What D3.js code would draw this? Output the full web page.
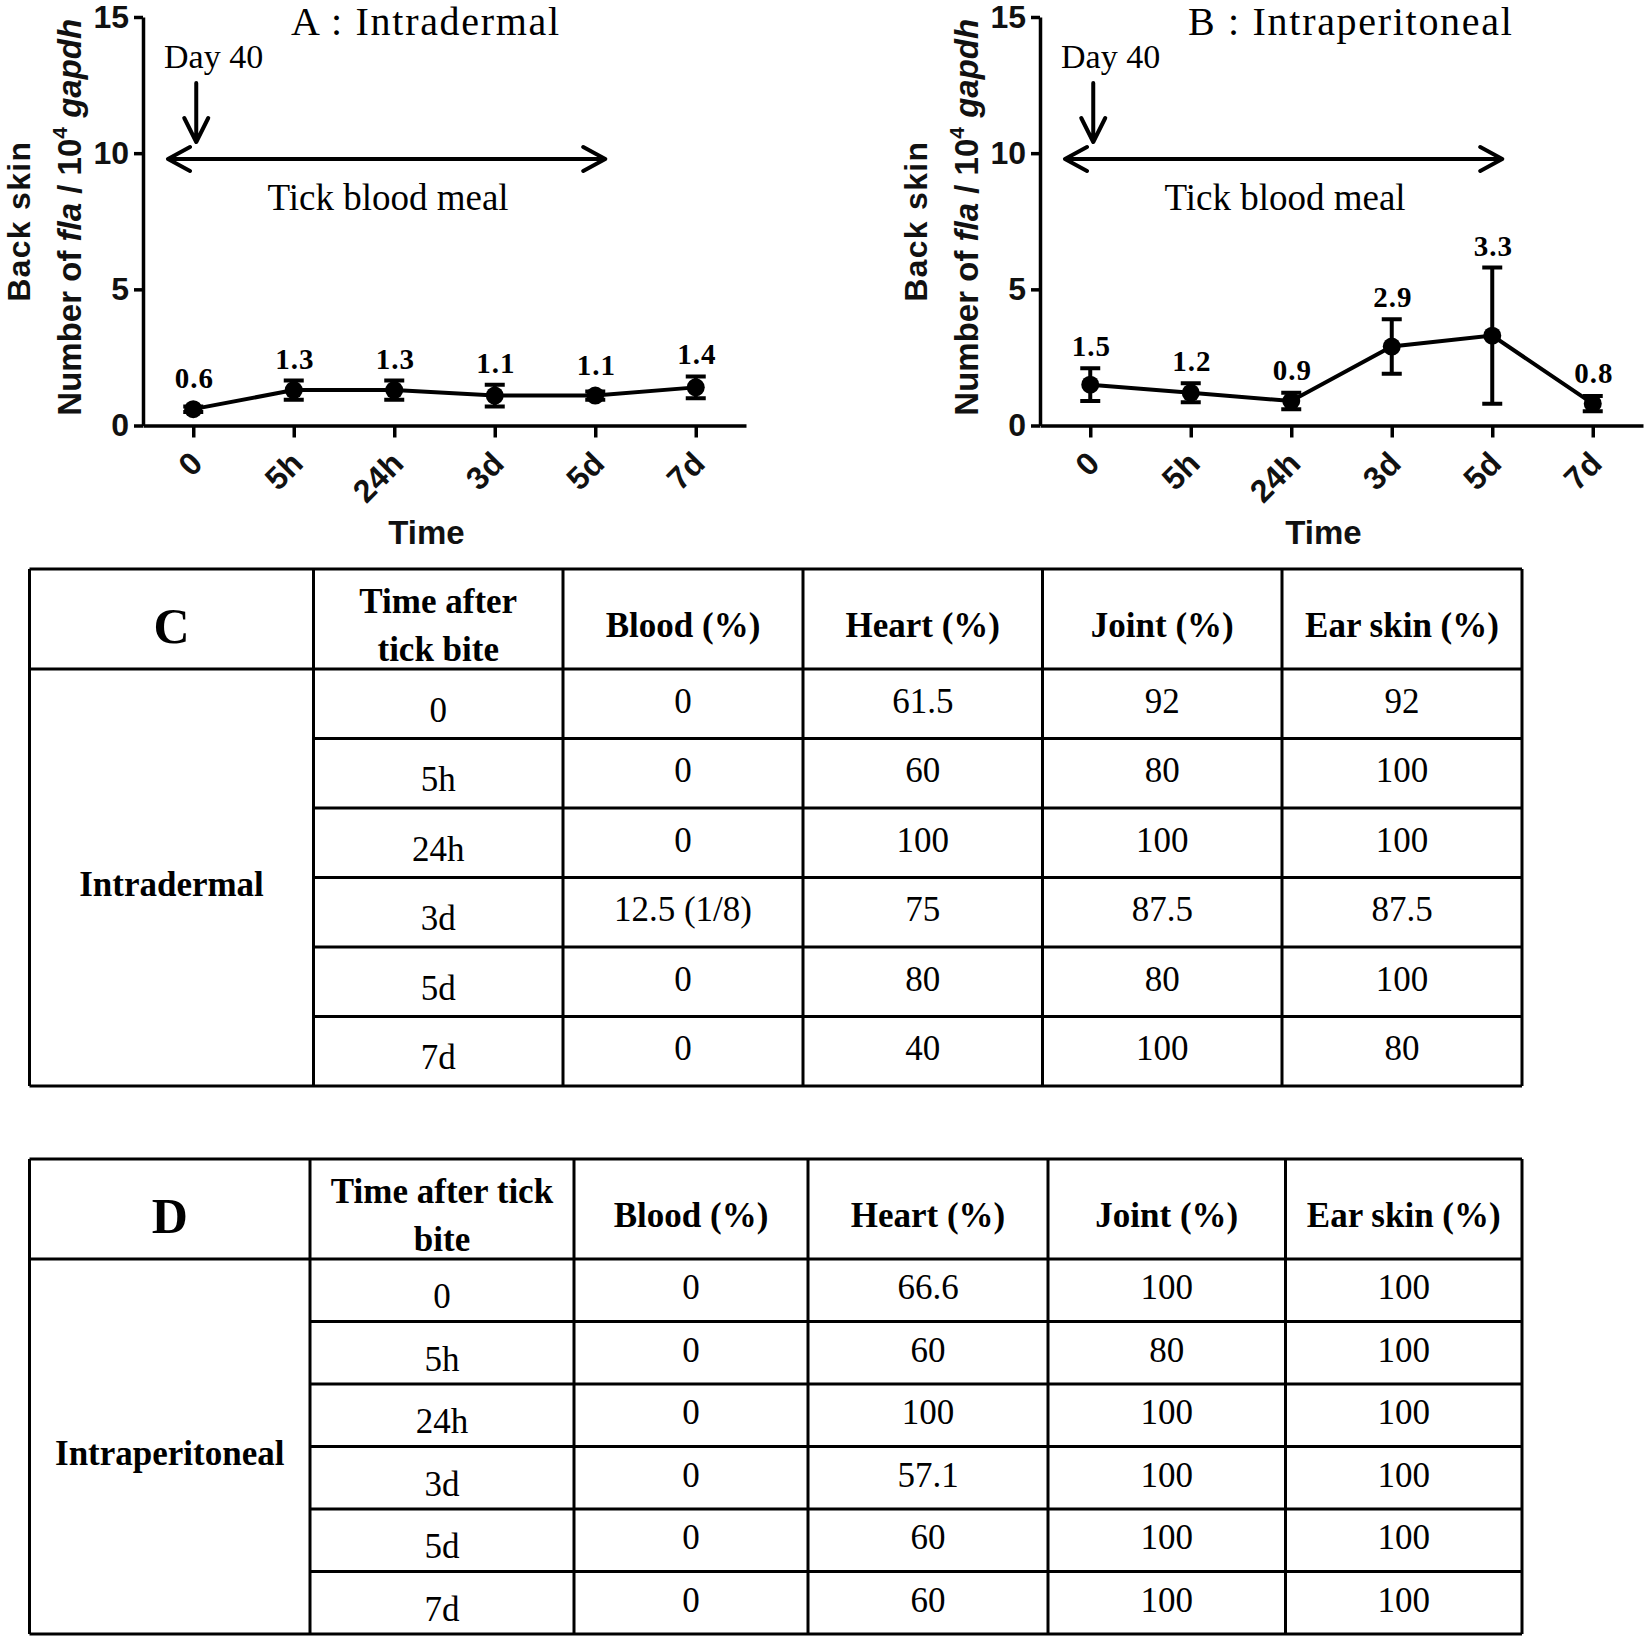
<!DOCTYPE html>
<html>
<head>
<meta charset="utf-8">
<script src="https://cdn.jsdelivr.net/npm/d3@7"></script>
<style>
  body { margin: 0; background: #fff; }
  svg { display: block; }
</style>
</head>
<body>
<div id="figure"></div>
<script>
        // Data
        const timePoints = ["0", "5h", "24h", "3d", "5d", "7d"];
        const yTicks = [0, 5, 10, 15];

        const intradermalMean = [0.6, 1.3, 1.3, 1.1, 1.1, 1.4];
        const intradermalErr = [0.1, 0.35, 0.35, 0.4, 0.15, 0.4];
        const intraperitonealMean = [1.5, 1.2, 0.9, 2.9, 3.3, 0.8];
        const intraperitonealErr = [0.6, 0.35, 0.3, 1.0, 2.5, 0.28];

        const organHeaders = ["Blood (%)", "Heart (%)", "Joint (%)", "Ear skin (%)"];
        const timeHeaderC = ["Time after", "tick bite"];
        const timeHeaderD = ["Time after tick", "bite"];

        const bloodC = ["0", "0", "0", "12.5 (1/8)", "0", "0"];
        const heartC = ["61.5", "60", "100", "75", "80", "40"];
        const jointC = ["92", "80", "100", "87.5", "80", "100"];
        const earC = ["92", "100", "100", "87.5", "100", "80"];

        const bloodD = ["0", "0", "0", "0", "0", "0"];
        const heartD = ["66.6", "60", "100", "57.1", "60", "60"];
        const jointD = ["100", "80", "100", "100", "100", "100"];
        const earD = ["100", "100", "100", "100", "100", "100"];

        const width = 1650;
        const height = 1638;
        const sans = "'Liberation Sans', Arial, sans-serif";
        const serif = "'Liberation Serif', 'Times New Roman', serif";

        const svg = d3.select("#figure")
            .append("svg")
            .attr("width", width)
            .attr("height", height);

        svg.append("rect")
            .attr("width", width)
            .attr("height", height)
            .attr("fill", "#fff");

        // Line chart panel (A / B)
        function drawPanel(axisX, title, means, errs) {
            const x = d3.scalePoint()
                .domain(timePoints)
                .range([axisX, axisX + 603])
                .padding(0.5);
            const y = d3.scaleLinear()
                .domain([0, 15])
                .range([425.5, 17]);
            const g = svg.append("g");

            // Axes
            g.append("g")
                .attr("transform", `translate(${axisX},0)`)
                .call(d3.axisLeft(y).tickValues(yTicks).tickSize(9).tickSizeOuter(0).tickPadding(5))
                .call(a => a.selectAll("text")
                    .attr("font-family", sans)
                    .attr("font-weight", "bold")
                    .attr("font-size", 32)
                    .attr("fill", "#111"));

            g.append("g")
                .attr("transform", `translate(0,${y(0)})`)
                .call(d3.axisBottom(x).tickSize(12).tickSizeOuter(0).tickFormat(""));

            g.selectAll(".domain, .tick line")
                .attr("stroke", "#000")
                .attr("stroke-width", 3.5);

            // Rotated time labels
            timePoints.forEach(t => {
                g.append("text")
                    .attr("transform", `translate(${x(t) + 11},${y(0) + 40}) rotate(-45)`)
                    .attr("text-anchor", "end")
                    .attr("font-family", sans)
                    .attr("font-weight", "bold")
                    .attr("font-size", 32)
                    .attr("fill", "#111")
                    .text(t);
            });

            const xMid = (x(timePoints[0]) + x(timePoints[timePoints.length - 1])) / 2;
            g.append("text")
                .attr("x", xMid - 18)
                .attr("y", 544)
                .attr("text-anchor", "middle")
                .attr("font-family", sans)
                .attr("font-weight", "bold")
                .attr("font-size", 33)
                .attr("fill", "#111")
                .text("Time");

            // Y axis titles
            const yMid = (y(0) + y(15)) / 2;
            g.append("text")
                .attr("transform", `translate(${axisX - 113.5},${yMid}) rotate(-90)`)
                .attr("text-anchor", "middle")
                .attr("font-family", sans)
                .attr("font-weight", "bold")
                .attr("font-size", 32)
                .attr("letter-spacing", 1.3)
                .attr("fill", "#111")
                .text("Back skin");

            const yLabel = g.append("text")
                .attr("transform", `translate(${axisX - 62},${yMid - 4}) rotate(-90)`)
                .attr("text-anchor", "middle")
                .attr("font-family", sans)
                .attr("font-weight", "bold")
                .attr("font-size", 33)
                .attr("fill", "#111");
            yLabel.append("tspan").text("Number of ");
            yLabel.append("tspan").attr("font-style", "italic").text("fla");
            yLabel.append("tspan").text(" / 10");
            yLabel.append("tspan").attr("font-size", 21).attr("dy", -14).text("4");
            yLabel.append("tspan").attr("dy", 14).text("  ");
            yLabel.append("tspan").attr("font-style", "italic").text("gapdh");

            // Annotations
            g.append("text")
                .attr("x", axisX + 148)
                .attr("y", 35)
                .attr("font-family", serif)
                .attr("font-size", 40)
                .attr("letter-spacing", 1.7)
                .text(title);

            g.append("text")
                .attr("x", axisX + 21)
                .attr("y", 68)
                .attr("font-family", serif)
                .attr("font-size", 34)
                .text("Day 40");

            const ax = x(timePoints[0]) + 3;
            g.append("path")
                .attr("d", `M${ax},83 L${ax},142 M${ax - 12},118 L${ax},142 L${ax + 12},118`)
                .attr("fill", "none")
                .attr("stroke", "#000")
                .attr("stroke-width", 4)
                .attr("stroke-linejoin", "round")
                .attr("stroke-linecap", "round");

            const hy = 159;
            const hx1 = axisX + 25;
            const hx2 = x("5d") + 10;
            g.append("path")
                .attr("d", `M${hx1},${hy} L${hx2},${hy}
                            M${hx1 + 22},${hy - 12} L${hx1},${hy} L${hx1 + 22},${hy + 12}
                            M${hx2 - 22},${hy - 12} L${hx2},${hy} L${hx2 - 22},${hy + 12}`)
                .attr("fill", "none")
                .attr("stroke", "#000")
                .attr("stroke-width", 4)
                .attr("stroke-linejoin", "round")
                .attr("stroke-linecap", "round");

            g.append("text")
                .attr("x", axisX + 245)
                .attr("y", 210)
                .attr("text-anchor", "middle")
                .attr("font-family", serif)
                .attr("font-size", 37)
                .text("Tick blood meal");

            // Series
            const points = timePoints.map((t, i) => ({ t: t, m: means[i], e: errs[i] }));

            g.append("path")
                .datum(points)
                .attr("d", d3.line().x(d => x(d.t)).y(d => y(d.m)))
                .attr("fill", "none")
                .attr("stroke", "#000")
                .attr("stroke-width", 4);

            points.forEach(d => {
                const cx = x(d.t);
                g.append("path")
                    .attr("d", `M${cx},${y(d.m - d.e)} L${cx},${y(d.m + d.e)}
                                M${cx - 10},${y(d.m - d.e)} L${cx + 10},${y(d.m - d.e)}
                                M${cx - 10},${y(d.m + d.e)} L${cx + 10},${y(d.m + d.e)}`)
                    .attr("fill", "none")
                    .attr("stroke", "#000")
                    .attr("stroke-width", 4);

                g.append("circle")
                    .attr("cx", cx)
                    .attr("cy", y(d.m))
                    .attr("r", 9)
                    .attr("fill", "#000");

                g.append("text")
                    .attr("x", cx + 1)
                    .attr("y", Math.min(y(d.m + d.e), y(d.m) - 9) - 12)
                    .attr("text-anchor", "middle")
                    .attr("font-family", serif)
                    .attr("font-weight", "bold")
                    .attr("font-size", 29)
                    .attr("letter-spacing", 1)
                    .text(d.m.toFixed(1));
            });
        }

        drawPanel(143, "A : Intradermal", intradermalMean, intradermalErr);
        drawPanel(1040, "B : Intraperitoneal", intraperitonealMean, intraperitonealErr);

        // Tables (C / D)
        function drawTable(top, headerBottom, bottom, edges, letter, group, timeHeader, columns) {
            const g = svg.append("g");
            const rows = d3.scaleBand()
                .domain(timePoints)
                .range([headerBottom, bottom]);
            const left = edges[0];
            const right = edges[edges.length - 1];
            const line = (x1, y1, x2, y2) => g.append("line")
                .attr("x1", x1).attr("y1", y1).attr("x2", x2).attr("y2", y2)
                .attr("stroke", "#000")
                .attr("stroke-width", 3);

            // Grid
            line(left, top, right, top);
            line(left, headerBottom, right, headerBottom);
            line(left, bottom, right, bottom);
            timePoints.slice(1).forEach(t => line(edges[1], rows(t), right, rows(t)));
            edges.forEach(ex => line(ex, top, ex, bottom));

            const colMid = i => (edges[i] + edges[i + 1]) / 2;
            const headerMid = (top + headerBottom) / 2;
            const cell = (xc, yb, txt, size, bold) => g.append("text")
                .attr("x", xc)
                .attr("y", yb)
                .attr("text-anchor", "middle")
                .attr("font-family", serif)
                .attr("font-weight", bold ? "bold" : "normal")
                .attr("font-size", size)
                .text(txt);

            // Header
            cell(colMid(0), headerMid + 24, letter, 50, true);
            cell(colMid(1), headerMid - 6, timeHeader[0], 35, true);
            cell(colMid(1), headerMid + 41.5, timeHeader[1], 35, true);
            organHeaders.forEach((h, i) => cell(colMid(i + 2), headerMid + 18, h, 35, true));

            // Body
            cell(colMid(0), (headerBottom + bottom) / 2 + 18.5, group, 35, true);
            timePoints.forEach((t, r) => {
                const rc = rows(t) + rows.bandwidth() / 2;
                cell(colMid(1), rc + 18, t, 35, false);
                columns.forEach((col, i) => cell(colMid(i + 2), rc + 9, col[r], 35, false));
            });
        }

        drawTable(569, 669, 1086, [29.5, 313.5, 563, 803, 1042.5, 1282, 1522],
            "C", "Intradermal", timeHeaderC, [bloodC, heartC, jointC, earC]);
        drawTable(1159, 1259, 1634, [29.5, 310, 574, 808, 1048, 1285.5, 1522],
            "D", "Intraperitoneal", timeHeaderD, [bloodD, heartD, jointD, earD]);
</script>
</body>
</html>
